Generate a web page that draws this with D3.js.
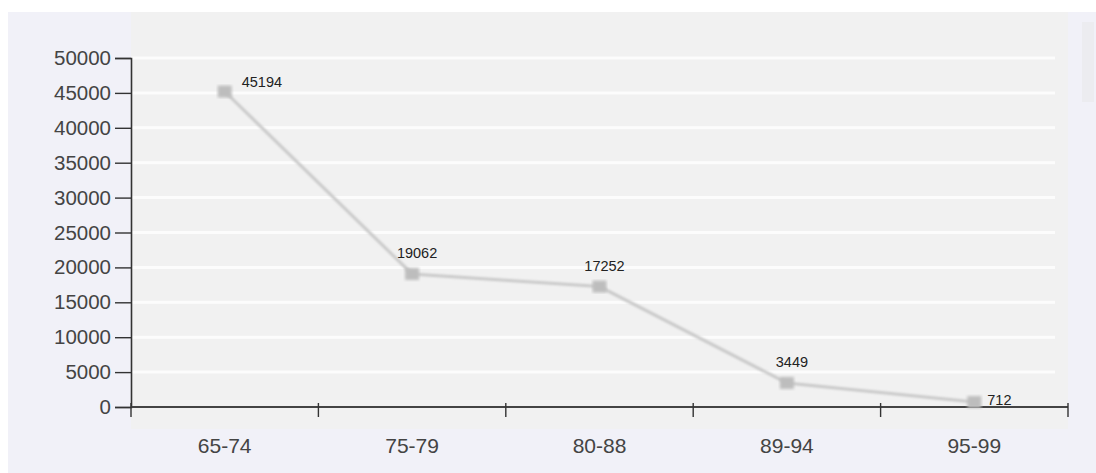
<!DOCTYPE html>
<html>
<head>
<meta charset="utf-8">
<script src="https://cdn.jsdelivr.net/npm/d3@7"></script>
<style>
  html, body { margin: 0; padding: 0; background: #ffffff; }
  svg { display: block; font-family: "Liberation Sans", Arial, sans-serif; }
</style>
</head>
<body>
<svg id="chart" width="1096" height="473"></svg>
<script>
// Age bands and counts
const categories = ["65-74", "75-79", "80-88", "89-94", "95-99"];
const counts = [45194, 19062, 17252, 3449, 712];
const yTicks = [0, 5000, 10000, 15000, 20000, 25000, 30000, 35000, 40000, 45000, 50000];

const W = 1096, H = 473;
const margin = { left: 131, right: 28, top: 58, bottom: 66 };

const svg = d3.select("#chart");

const defs = svg.append("defs");
defs.append("filter").attr("id", "soft")
  .append("feGaussianBlur").attr("stdDeviation", 0.9);
defs.append("filter").attr("id", "softer")
  .append("feGaussianBlur").attr("stdDeviation", 1.4);

// page panels
svg.append("rect").attr("x", 8).attr("y", 12).attr("width", W - 8).attr("height", H - 12)
  .attr("fill", "#f1f1f8");
svg.append("rect").attr("x", 131).attr("y", 12).attr("width", 937).attr("height", 417)
  .attr("fill", "#f1f1f1");
svg.append("rect").attr("x", 1082).attr("y", 22).attr("width", 12).attr("height", 80)
  .attr("fill", "#ececf0");

const x = d3.scaleBand().domain(categories)
  .range([margin.left, W - margin.right]);
const y = d3.scaleLinear().domain([0, 50000])
  .range([H - margin.bottom, margin.top]);

// horizontal white grid
svg.append("g")
  .selectAll("line").data(yTicks.filter(d => d > 0)).join("line")
  .attr("x1", margin.left).attr("x2", 1055)
  .attr("y1", d => y(d)).attr("y2", d => y(d))
  .attr("stroke", "#fcfcfc").attr("stroke-width", 3);

// y axis
const yAxis = svg.append("g")
  .attr("transform", `translate(${margin.left},0)`)
  .call(d3.axisLeft(y).tickValues(yTicks).tickSize(16).tickPadding(4).tickFormat(d3.format("d")));
yAxis.select(".domain").attr("stroke", "#333").attr("stroke-width", 1.6);
yAxis.selectAll(".tick line").attr("stroke", "#333").attr("stroke-width", 1.4);
yAxis.selectAll(".tick text").attr("fill", "#444").attr("font-size", 20.5)
  .attr("font-family", "Liberation Sans, Arial, sans-serif");

// x axis with ticks at band boundaries
const xAxisG = svg.append("g").attr("transform", `translate(0,${y(0)})`);
xAxisG.append("line")
  .attr("x1", margin.left).attr("x2", W - margin.right)
  .attr("stroke", "#444").attr("stroke-width", 2);
const bounds = categories.map(c => x(c)).concat([x(categories[categories.length - 1]) + x.bandwidth()]);
xAxisG.selectAll("line.tk").data(bounds).join("line").attr("class", "tk")
  .attr("x1", d => d).attr("x2", d => d).attr("y1", -4).attr("y2", 10)
  .attr("stroke", "#333").attr("stroke-width", 1.4);
xAxisG.selectAll("text").data(categories).join("text")
  .attr("x", d => x(d) + x.bandwidth() / 2).attr("y", 46)
  .attr("text-anchor", "middle").attr("fill", "#444").attr("font-size", 21)
  .text(d => d);

// series
const pts = categories.map((c, i) => ({ c, v: counts[i], i }));
const cx = d => x(d.c) + x.bandwidth() / 2;

svg.append("path").datum(pts)
  .attr("d", d3.line().x(cx).y(d => y(d.v)))
  .attr("fill", "none").attr("stroke", "#c9c9c9").attr("stroke-width", 3)
  .attr("filter", "url(#soft)");

svg.append("g").selectAll("rect").data(pts).join("rect")
  .attr("x", d => cx(d) - 7).attr("y", d => y(d.v) - 6)
  .attr("width", 14).attr("height", 12)
  .attr("fill", "#bdbdbd").attr("filter", "url(#softer)");

// value labels: ends placed to the right, middle ones above the point
const last = pts.length - 1;
svg.append("g").selectAll("text").data(pts).join("text")
  .attr("x", d => d.i === 0 ? cx(d) + 17 : d.i === last ? cx(d) + 13 : cx(d) + 5)
  .attr("y", d => d.i === 0 ? y(d.v) - 5 : d.i === last ? y(d.v) + 3 : y(d.v) - 16)
  .attr("text-anchor", d => (d.i === 0 || d.i === last) ? "start" : "middle")
  .attr("font-size", 14.5).attr("fill", "#222")
  .text(d => d.v);
</script>
</body>
</html>
